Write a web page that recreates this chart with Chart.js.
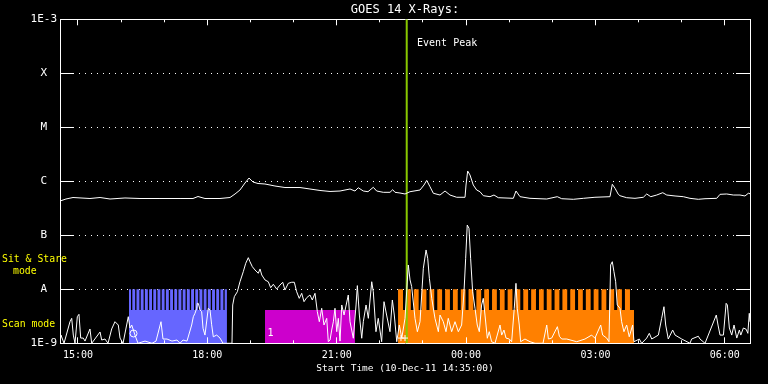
<!DOCTYPE html>
<html><head><meta charset="utf-8">
<script src="https://cdn.jsdelivr.net/npm/chart.js@4/dist/chart.umd.min.js"></script>
<style>html,body{margin:0;padding:0;background:#000;}#wrap{width:768px;height:384px;}</style>
</head><body><div id="wrap"><canvas id="c" width="768" height="384"></canvas></div>
<script>
const FONT = "'DejaVu Sans Mono','Liberation Mono',monospace";

// Time axis: minutes after the start time (10-Dec-11 14:35:00)
const xTickMinutes = [25, 205, 385, 565, 745, 925];
const xTickLabels = ['15:00', '18:00', '21:00', '00:00', '03:00', '06:00'];
const hourMinutes = [25, 85, 145, 205, 265, 325, 385, 445, 505, 565, 625, 685, 745, 805, 865, 925];

// Flux axis (W/m^2) and class labels
const yTickValues = [1e-9, 1e-8, 1e-7, 1e-6, 1e-5, 1e-4, 1e-3];
const yTickLabels = ['1E-9', 'A', 'B', 'C', 'M', 'X', '1E-3'];

// Long channel (1-8 A)
const longTimes = [0, 8.3, 18.1, 41.7, 55.7, 69.6, 90.4, 111.3, 139.1, 167,
  185, 192, 201.7, 222.6, 236.5, 243.5, 250.4, 257.4, 263, 268.5,
  275.5, 285.2, 299.1, 313, 333.9, 347.8, 361.7, 375.7, 389.6, 403.5,
  410.4, 415, 422, 428.5, 435.9, 440.6, 449.8, 459.1, 462.9, 466.1,
  473, 480, 487, 500.9, 506.4, 510.2, 514.8, 519.4, 528.7, 535.7,
  542.6, 551.9, 563.5, 564.9, 567.2, 570.4, 575, 579.7, 584.3, 589,
  598.3, 603.8, 609.8, 630.7, 634.4, 640, 653.9, 677.2, 691.9, 698,
  714.2, 728.1, 744.3, 765.2, 768.4, 772.2, 776.8, 779.1, 788.4, 800,
  811.6, 816.3, 821.9, 830.2, 838.6, 844.2, 855.7, 867.2, 876.5, 888.1,
  897.4, 913.7, 918.3, 927.6, 936.8, 946.1, 953, 957.7, 960];
const longFlux = [4.31e-7, 4.7e-7, 5.01e-7, 4.8e-7, 5.01e-7, 4.7e-7, 4.91e-7, 4.8e-7, 4.8e-7, 4.8e-7,
  4.8e-7, 5.23e-7, 4.8e-7, 4.8e-7, 5.01e-7, 5.82e-7, 6.9e-7, 9.3e-7, 1.15e-6, 9.7e-7,
  9.1e-7, 8.91e-7, 8.18e-7, 7.67e-7, 7.67e-7, 7.2e-7, 6.76e-7, 6.48e-7, 6.61e-7, 7.2e-7,
  6.61e-7, 7.6e-7, 6.61e-7, 6.42e-7, 7.74e-7, 6.61e-7, 6.25e-7, 6.25e-7, 6.99e-7, 6.25e-7,
  6.07e-7, 5.82e-7, 6.42e-7, 6.9e-7, 8.53e-7, 1.04e-6, 7.94e-7, 6.0e-7, 5.57e-7, 6.61e-7,
  5.57e-7, 5.06e-7, 5.06e-7, 8.53e-7, 1.55e-6, 1.31e-6, 8.53e-7, 6.9e-7, 6.42e-7, 5.41e-7,
  5.19e-7, 5.57e-7, 4.97e-7, 4.84e-7, 6.61e-7, 5.19e-7, 4.84e-7, 4.7e-7, 5.19e-7, 4.76e-7,
  4.64e-7, 4.84e-7, 5.06e-7, 5.19e-7, 8.8e-7, 7.41e-7, 5.74e-7, 5.41e-7, 4.97e-7, 4.84e-7,
  5.06e-7, 5.82e-7, 5.19e-7, 5.57e-7, 6.15e-7, 5.57e-7, 5.35e-7, 5.19e-7, 4.84e-7, 4.64e-7,
  4.76e-7, 4.84e-7, 5.74e-7, 5.82e-7, 5.57e-7, 5.57e-7, 5.35e-7, 6.0e-7, 5.89e-7];

// Short channel (0.5-4 A)
const shortTimes = [0, 1.4, 5.6, 13.9, 16.3, 18.5, 20.9, 24.1, 26.4, 28.8,
  32.4, 34.8, 41.7, 44.1, 55.7, 58, 62.6, 66.8, 71.9, 76.5,
  81.1, 83.5, 87.7, 95, 97.4, 99.8, 104.3, 108.5, 118.3, 128,
  133.6, 140.5, 143.3, 148.9, 155.8, 162.8, 167, 171.1, 176.7, 183.2,
  185.5, 187.8, 190.2, 191, 192.4, 194.8, 197.1, 199, 201.7, 206.3,
  208.7, 211, 213.3, 218, 222.6, 226.8, 239.3, 240.3, 242.5, 246.7,
  250.4, 255, 258.4, 262, 264.3, 267.6, 271.3, 275.9, 278.3, 280.7,
  285.2, 289.8, 293.1, 296.8, 301.5, 306.1, 309.9, 313, 317.6, 322.4,
  326, 329.3, 332.9, 336.3, 339.5, 343.2, 347.8, 351, 354.8, 358,
  360.8, 364.1, 367.3, 371.1, 373.3, 375.7, 378, 380.3, 382.6, 385,
  387.2, 389.6, 392, 395.2, 401.1, 403.5, 408.1, 411.9, 413.7, 416.5,
  419.8, 422, 425.8, 429, 433.7, 435.9, 439.6, 442.8, 447.5, 450.8,
  454.4, 459.1, 462.4, 465.1, 468.5, 472.1, 475.5, 480, 484.6, 487,
  489.3, 493.9, 497.2, 500.9, 505.5, 509.3, 511.6, 513.9, 517.2, 521.7,
  526.4, 528.7, 533.3, 537, 540.2, 544.9, 549.6, 554.2, 558.8, 562.1,
  564.4, 566.6, 569, 571.3, 574.1, 577.4, 580.5, 583.4, 586.6, 588.9,
  591.3, 594.5, 597.2, 600.5, 605.2, 612.2, 614.5, 617.7, 620.5, 625.1,
  628.4, 632, 634.4, 636.2, 639, 640.9, 646.9, 653.9, 660.9, 672,
  677.2, 679.5, 684.1, 692, 694.8, 698, 705, 718.9, 730.4, 739.7,
  742, 744.3, 752.3, 755, 760.6, 763.8, 766.1, 768.4, 770.7, 773.1,
  775.3, 779.1, 781.4, 784.6, 788.4, 792, 796.7, 798.6, 806, 809.3,
  816.3, 819.9, 823.3, 832.5, 837.1, 840.3, 842.7, 846.3, 852.4, 855.7,
  865, 876.5, 878.8, 888.1, 890.4, 897.4, 913.1, 915.5, 918.3, 923,
  926.8, 928.5, 931.3, 934.6, 937.8, 941.6, 945.2, 947.2, 950.8, 954.6,
  957, 959, 960];
const shortFlux = [1e-9, 1.42e-9, 1e-9, 2.51e-9, 2.9e-9, 1.42e-9, 1e-9, 3.11e-9, 3.44e-9, 1.25e-9,
  1.25e-9, 1.1e-9, 1.84e-9, 1e-9, 1.62e-9, 1.15e-9, 1.2e-9, 1e-9, 1.84e-9, 2.51e-9,
  2.18e-9, 1.25e-9, 1e-9, 3.11e-9, 1.92e-9, 2.18e-9, 1.42e-9, 1e-9, 1.1e-9, 1e-9,
  1.1e-9, 2.51e-9, 1.2e-9, 1.2e-9, 1.1e-9, 1.15e-9, 1e-9, 1.15e-9, 1.1e-9, 2.18e-9,
  3.11e-9, 3.59e-9, 4.45e-9, 5.5e-9, 5.5e-9, 4.14e-9, 3.85e-9, 1.9e-9, 1.42e-9, 4.45e-9,
  4.14e-9, 2.2e-9, 1.32e-9, 1.42e-9, 1.25e-9, 1e-9, 1e-9, 5.12e-9, 7.3e-9, 9.0e-9,
  1.38e-8, 2.12e-8, 3.03e-8, 3.85e-8, 3.24e-8, 2.62e-8, 2.28e-8, 1.98e-8, 2.38e-8, 1.84e-8,
  1.49e-8, 1.38e-8, 1.07e-8, 1.24e-8, 1.01e-8, 1.2e-8, 1.35e-8, 9.7e-9, 1.29e-8, 1.35e-8,
  1.35e-8, 9.0e-9, 6.8e-9, 8.43e-9, 5.9e-9, 6.99e-9, 7.84e-9, 6.34e-9, 8.43e-9, 3.85e-9,
  2.51e-9, 4.45e-9, 2.18e-9, 2.9e-9, 1.07e-9, 1.15e-9, 1.76e-9, 2.5e-9, 4.45e-9, 1.64e-9,
  2.9e-9, 1.1e-9, 5.12e-9, 3.34e-9, 7.84e-9, 2.51e-9, 1.24e-9, 5.12e-9, 1.17e-8, 3.34e-9,
  1.24e-9, 2.51e-9, 5.12e-9, 2.9e-9, 1.38e-8, 9.0e-9, 1.64e-9, 2.9e-9, 1.07e-9, 5.9e-9,
  3.34e-9, 1.64e-9, 6.34e-9, 3.34e-9, 1.07e-9, 2.18e-9, 1.25e-9, 2.9e-9, 2.82e-8, 1.49e-8,
  1.12e-8, 2.9e-9, 1.64e-9, 2.51e-9, 2.45e-8, 5.35e-8, 3.75e-8, 1.6e-8, 6.8e-9, 2.9e-9,
  1.64e-9, 3.34e-9, 2.51e-9, 1.64e-9, 2.9e-9, 1.64e-9, 2.51e-9, 1.64e-9, 2.18e-9, 9.0e-9,
  3.75e-8, 1.55e-7, 1.35e-7, 3.75e-8, 9.0e-9, 4.45e-9, 2.18e-9, 1.64e-9, 5.12e-9, 6.8e-9,
  3.34e-9, 1.24e-9, 1.64e-9, 1.07e-9, 1e-9, 2.18e-9, 1.42e-9, 1.76e-9, 1.25e-9, 1.2e-9,
  1.07e-9, 4.45e-9, 1.29e-8, 4.45e-9, 2.18e-9, 1.07e-9, 1.2e-9, 1.07e-9, 1e-9, 1e-9,
  2.18e-9, 1.2e-9, 1.25e-9, 2.03e-9, 1.35e-9, 1.2e-9, 1.2e-9, 1.07e-9, 1.2e-9, 1.42e-9,
  1.32e-9, 1.25e-9, 2.18e-9, 1.42e-9, 1.25e-9, 1.07e-9, 2.82e-8, 3.24e-8, 2.12e-8, 1.38e-8,
  5.12e-9, 4.45e-9, 2.51e-9, 1.64e-9, 2.18e-9, 1.32e-9, 2.18e-9, 1.07e-9, 1.2e-9, 1e-9,
  1.25e-9, 1.53e-9, 1.2e-9, 1.42e-9, 2.9e-9, 4.76e-9, 2.18e-9, 1.2e-9, 1.76e-9, 1.42e-9,
  1.2e-9, 1e-9, 1.2e-9, 1.35e-9, 1.2e-9, 1e-9, 3.34e-9, 2.18e-9, 1.42e-9, 1.42e-9,
  5.5e-9, 5.12e-9, 1.92e-9, 1.42e-9, 2.18e-9, 1.25e-9, 1.76e-9, 1.42e-9, 1.92e-9, 1.82e-9,
  1.53e-9, 3.59e-9, 2.5e-9];

// Observing-mode blocks (minutes after start)
const sitStareTop = 1e-8;      // top of mode comb
const scanTop = 4.14e-9;       // top of solid block
const blueBlock = [96.0, 232.3];
const blueGapStarts = [98.8, 104.6, 110.5, 116.3, 122.2, 128.0, 133.8, 139.7, 145.5, 151.4, 157.2, 163.0,
  168.9, 174.7, 180.6, 186.4, 192.2, 198.1, 203.9, 209.8, 215.6, 221.4, 227.3];
const magentaBlock = [285.2, 410.4];
const orangeBlock = [470.3, 793.0, 798.6];
const orangeGapStarts = [477.2, 488.1, 499.0, 509.8, 520.7, 531.6, 542.5, 553.4, 564.2, 575.1, 586.0,
  596.9, 607.8, 618.6, 629.5, 640.4, 651.3, 662.2, 673.0, 683.9, 694.8, 705.7, 716.6, 727.4,
  738.3, 749.2, 760.1, 771.0, 781.8];
const eventPeakMinute = 482.4;
const circleMark = [102.3, 1.52e-9];
const crossMarks = [[474.4, 1.25e-9], [480.0, 1.25e-9]];

const BLUE_GAP = 1.8, ORANGE_GAP = 4.2;

function comb(start, end, gaps, gw) {
  const pts = [{x: start, y: sitStareTop}];
  gaps.forEach(g => { pts.push({x: g, y: scanTop}); pts.push({x: g + gw, y: sitStareTop}); });
  pts.push({x: end, y: sitStareTop});
  return pts;
}
const bluePts = comb(blueBlock[0], blueBlock[1], blueGapStarts, BLUE_GAP);
const orangePts = comb(orangeBlock[0], orangeBlock[1], orangeGapStarts, ORANGE_GAP);
orangePts.push({x: orangeBlock[1], y: scanTop});
orangePts.push({x: orangeBlock[2], y: scanTop});
const magentaPts = [{x: magentaBlock[0], y: scanTop}, {x: magentaBlock[1], y: scanTop}];

const longPts = longTimes.map((t, i) => ({x: t, y: longFlux[i]}));
const shortPts = shortTimes.map((t, i) => ({x: t, y: shortFlux[i]}));

function al(p) { return Math.round(p - 0.5) + 0.5; }

const decor = {
  id: 'decor',
  afterDatasetsDraw(chart) {
    const {ctx, chartArea: {left, right, top, bottom}, scales: {x, y}} = chart;
    ctx.save();
    ctx.strokeStyle = '#fff';
    ctx.lineWidth = 1;
    ctx.beginPath();
    hourMinutes.forEach(m => {
      const px = al(x.getPixelForValue(m));
      const len = xTickMinutes.includes(m) ? 6 : 3;
      ctx.moveTo(px, top); ctx.lineTo(px, top + len);
      ctx.moveTo(px, bottom); ctx.lineTo(px, bottom - len);
    });
    yTickValues.slice(1, -1).forEach(v => {
      const py = al(y.getPixelForValue(v));
      ctx.moveTo(left, py); ctx.lineTo(left + 14, py);
      ctx.moveTo(right - 14, py); ctx.lineTo(right, py);
    });
    ctx.stroke();
    ctx.restore();
  },
  afterDraw(chart) {
    const {ctx, chartArea: {left, bottom}, scales: {x, y}} = chart;
    ctx.save();
    ctx.textBaseline = 'middle';
    ctx.textAlign = 'left';
    ctx.fillStyle = '#fff';
    ctx.font = "10px " + FONT;
    ctx.fillText('Event Peak', x.getPixelForValue(eventPeakMinute) + 10.3, y.getPixelForValue(1e-3) + 24);
    ctx.textAlign = 'center';
    ctx.fillText('1', x.getPixelForValue(magentaBlock[0]) + 5.5, bottom - 10);
    ctx.textAlign = 'left';
    ctx.fillStyle = '#ffff00';
    ctx.font = "9.8px " + FONT;
    const yA = y.getPixelForValue(1e-8);
    ctx.fillText('Sit & Stare', 2, yA - 30);
    ctx.fillText('mode', 13, yA - 18);
    ctx.fillText('Scan mode', 2, yA + 35);
    ctx.restore();
  }
};

new Chart(document.getElementById('c'), {
  type: 'line',
  data: {
    datasets: [
      {data: bluePts, stepped: 'before', fill: 'start', backgroundColor: '#6666ff', borderColor: 'rgba(0,0,0,0)', borderWidth: 0, pointRadius: 0, order: 10},
      {data: magentaPts, fill: 'start', backgroundColor: '#cc00cc', borderColor: 'rgba(0,0,0,0)', borderWidth: 0, pointRadius: 0, order: 10},
      {data: orangePts, stepped: 'before', fill: 'start', backgroundColor: '#ff8000', borderColor: 'rgba(0,0,0,0)', borderWidth: 0, pointRadius: 0, order: 10},
      {data: [{x: eventPeakMinute, y: 1e-9}, {x: eventPeakMinute, y: 1e-3}], borderColor: '#88c800', borderWidth: 2, pointRadius: 0, fill: false, order: 5},
      {data: longPts, borderColor: '#ffffff', borderWidth: 1, pointRadius: 0, fill: false, tension: 0, order: 1},
      {data: shortPts, borderColor: '#ffffff', borderWidth: 1, pointRadius: 0, fill: false, tension: 0, order: 1},
      {data: [{x: circleMark[0], y: circleMark[1]}], showLine: false, pointStyle: 'circle', pointRadius: 3.5, pointBorderWidth: 1, pointBorderColor: '#fff', pointBackgroundColor: 'rgba(0,0,0,0)', order: 1},
      {data: crossMarks.map(c => ({x: c[0], y: c[1]})), showLine: false, pointStyle: 'cross', pointRadius: 3, pointBorderWidth: 1, pointBorderColor: '#fff', order: 1}
    ]
  },
  options: {
    responsive: false,
    animation: false,
    devicePixelRatio: 1,
    layout: {padding: 0},
    plugins: {
      legend: {display: false},
      tooltip: {enabled: false},
      title: {display: true, text: 'GOES 14 X-Rays:', color: '#fff', fullSize: false,
        font: {family: FONT, size: 12, weight: 'normal', lineHeight: 1.2}, padding: {top: 2.5, bottom: 0}}
    },
    scales: {
      x: {
        type: 'linear', position: 'bottom', min: 0, max: 960,
        afterBuildTicks: s => { s.ticks = xTickMinutes.map(v => ({value: v})); },
        ticks: {callback: (v, i) => xTickLabels[i], color: '#fff', font: {family: FONT, size: 10, lineHeight: 1.2}, padding: 6, maxRotation: 0, autoSkip: false},
        grid: {display: false, drawTicks: false},
        border: {display: true, color: '#fff', width: 1},
        title: {display: true, text: 'Start Time (10-Dec-11 14:35:00)', color: '#fff', font: {family: FONT, size: 9.5, lineHeight: 1.2}, padding: {top: 0, bottom: 9.3}},
        afterFit: s => { s.height = 40.7; }
      },
      xTop: {
        type: 'linear', position: 'top', min: 0, max: 960,
        ticks: {display: false},
        grid: {display: false, drawTicks: false},
        border: {display: true, color: '#fff', width: 1},
        afterFit: s => { s.height = 2.4; }
      },
      y: {
        type: 'logarithmic', position: 'left', min: 1e-9, max: 1e-3,
        afterBuildTicks: s => { s.ticks = yTickValues.map(v => ({value: v})); },
        ticks: {callback: (v, i) => yTickLabels[i], color: '#fff', font: {family: FONT, size: 11, lineHeight: 1.2}, padding: 3, crossAlign: 'center', autoSkip: false},
        grid: {display: true, drawTicks: false, color: '#fff', lineWidth: 1},
        border: {display: true, color: '#fff', width: 1, dash: [1, 5]},
        afterFit: s => { s.width = 60; }
      },
      yRight: {
        type: 'logarithmic', position: 'right', min: 1e-9, max: 1e-3,
        ticks: {display: false},
        grid: {display: false, drawTicks: false},
        border: {display: true, color: '#fff', width: 1},
        afterFit: s => { s.width = 18; }
      }
    }
  },
  plugins: [decor]
});
</script>
</body></html>
